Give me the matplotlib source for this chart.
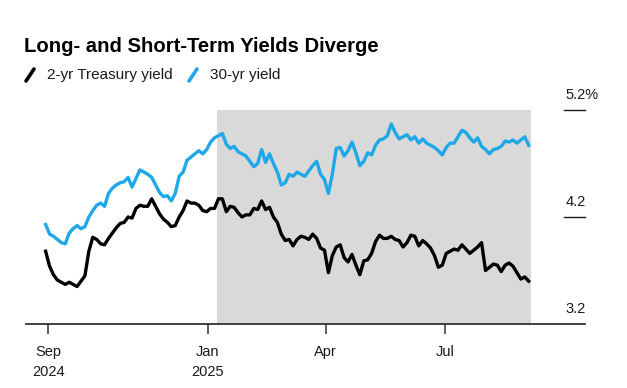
import pandas as pd
import matplotlib
matplotlib.use('Agg')
import matplotlib.pyplot as plt
import matplotlib.transforms as mtransforms
from matplotlib.lines import Line2D

dates = pd.date_range('2024-08-30', periods=124, freq='3D')

thirty_year = [
    4.13, 4.04, 4.02, 3.99, 3.96, 3.95, 4.05, 4.09, 4.12, 4.09,
    4.11, 4.20, 4.26, 4.31, 4.33, 4.30, 4.42, 4.47, 4.50, 4.52,
    4.53, 4.57, 4.48, 4.56, 4.64, 4.62, 4.60, 4.57, 4.50, 4.43,
    4.39, 4.40, 4.35, 4.42, 4.58, 4.62, 4.73, 4.76, 4.79, 4.82,
    4.79, 4.83, 4.90, 4.94, 4.96, 4.98, 4.88, 4.84, 4.86, 4.81,
    4.79, 4.77, 4.72, 4.67, 4.70, 4.83, 4.71, 4.79, 4.70, 4.62,
    4.50, 4.52, 4.60, 4.58, 4.62, 4.60, 4.58, 4.63, 4.68, 4.72,
    4.60, 4.55, 4.42, 4.60, 4.84, 4.85, 4.77, 4.82, 4.90, 4.80,
    4.68, 4.72, 4.80, 4.78, 4.87, 4.92, 4.93, 4.96, 5.07, 4.99,
    4.93, 4.95, 4.97, 4.92, 4.95, 4.89, 4.93, 4.89, 4.87, 4.85,
    4.82, 4.78, 4.85, 4.89, 4.89, 4.95, 5.01, 4.99, 4.94, 4.90,
    4.94, 4.86, 4.83, 4.79, 4.83, 4.84, 4.86, 4.91, 4.90, 4.92,
    4.89, 4.92, 4.95, 4.87,
]

two_year = [
    3.88, 3.74, 3.66, 3.61, 3.59, 3.57, 3.59, 3.57, 3.55, 3.60,
    3.65, 3.88, 4.01, 3.99, 3.95, 3.94, 4.00, 4.05, 4.10, 4.14,
    4.15, 4.20, 4.19, 4.28, 4.31, 4.30, 4.30, 4.37, 4.30, 4.23,
    4.18, 4.15, 4.11, 4.12, 4.20, 4.26, 4.35, 4.33, 4.33, 4.31,
    4.26, 4.25, 4.28, 4.28, 4.37, 4.37, 4.25, 4.30, 4.29, 4.24,
    4.20, 4.22, 4.22, 4.28, 4.27, 4.35, 4.27, 4.29, 4.20, 4.15,
    4.04, 3.98, 3.99, 3.93, 3.99, 4.02, 4.01, 3.99, 4.04, 4.00,
    3.91, 3.89, 3.68, 3.84, 3.92, 3.94, 3.82, 3.78, 3.85, 3.75,
    3.66, 3.79, 3.80, 3.86, 3.97, 4.03, 4.00, 4.00, 4.02, 3.99,
    3.98, 3.92, 3.96, 4.03, 4.02, 3.93, 3.98, 3.95, 3.91, 3.84,
    3.73, 3.75, 3.86, 3.88, 3.90, 3.89, 3.94, 3.90, 3.86, 3.89,
    3.92, 3.96, 3.70, 3.73, 3.76, 3.75, 3.69, 3.75, 3.77, 3.74,
    3.68, 3.62, 3.64, 3.60,
]

shade_start = '2025-01-08'
shade_end = '2025-09-05'

tick_dates = ['2024-09-01', '2025-01-01', '2025-04-01', '2025-07-01']
tick_labels = ['Sep\n2024', 'Jan\n2025', 'Apr', 'Jul']

y_levels = [5.2, 4.2, 3.2]
y_labels = ['5.2%', '4.2', '3.2']

BLUE = '#1fa8e8'
INK = '#1a1a1a'

plt.rcParams['font.family'] = ['Liberation Sans', 'DejaVu Sans']

fig = plt.figure(figsize=(6.27, 3.88), dpi=100)
ax = fig.add_axes([26 / 627, 64 / 388, 559 / 627, 214 / 388])

ax.axvspan(pd.Timestamp(shade_start), pd.Timestamp(shade_end),
           color='#d9d9d9', lw=0, zorder=0)
ax.plot(dates, thirty_year, color=BLUE, lw=2.4, solid_joinstyle='round', zorder=2)
ax.plot(dates, two_year, color='black', lw=2.4, solid_joinstyle='round', zorder=3)

ax.set_xlim(pd.Timestamp('2024-08-15'), pd.Timestamp('2025-10-16'))
ax.set_ylim(3.2, 5.2)

for side in ['top', 'right', 'left']:
    ax.spines[side].set_visible(False)
ax.spines['bottom'].set_color('#333333')
ax.spines['bottom'].set_linewidth(1.3)

ax.set_yticks([])
ax.set_xticks(pd.to_datetime(tick_dates))
ax.set_xticklabels(tick_labels, fontsize=10.5, linespacing=1.55, color=INK)
ax.tick_params(axis='x', length=7, width=1.1, color='#333333', pad=8)

# right-hand value labels, sitting above short rule lines
trans = mtransforms.blended_transform_factory(ax.transAxes, ax.transData)
for lvl, lab in zip(y_levels, y_labels):
    if lvl > y_levels[-1]:
        ax.plot([0.962, 1.0], [lvl, lvl], transform=trans, color=INK,
                lw=1.0, clip_on=False)
    ax.annotate(lab, xy=(0.965, lvl), xycoords=trans, xytext=(0, 6),
                textcoords='offset points', ha='left', va='bottom',
                fontsize=10.5, color=INK, annotation_clip=False)

# title and legend
fig.text(24 / 627, 1 - 46 / 388, 'Long- and Short-Term Yields Diverge',
         fontsize=14.6, fontweight='bold', color='black', va='center')

legend_y = 1 - 75 / 388
for x0, col, lab in [(26, 'black', '2-yr Treasury yield'), (189, BLUE, '30-yr yield')]:
    fig.add_artist(Line2D([x0 / 627, (x0 + 8) / 627],
                          [1 - 81 / 388, 1 - 69 / 388],
                          transform=fig.transFigure, color=col, lw=2.6,
                          solid_capstyle='round'))
    fig.text((x0 + 21) / 627, legend_y, lab, fontsize=11, color=INK, va='center')

fig.savefig('out.png', dpi=100)
